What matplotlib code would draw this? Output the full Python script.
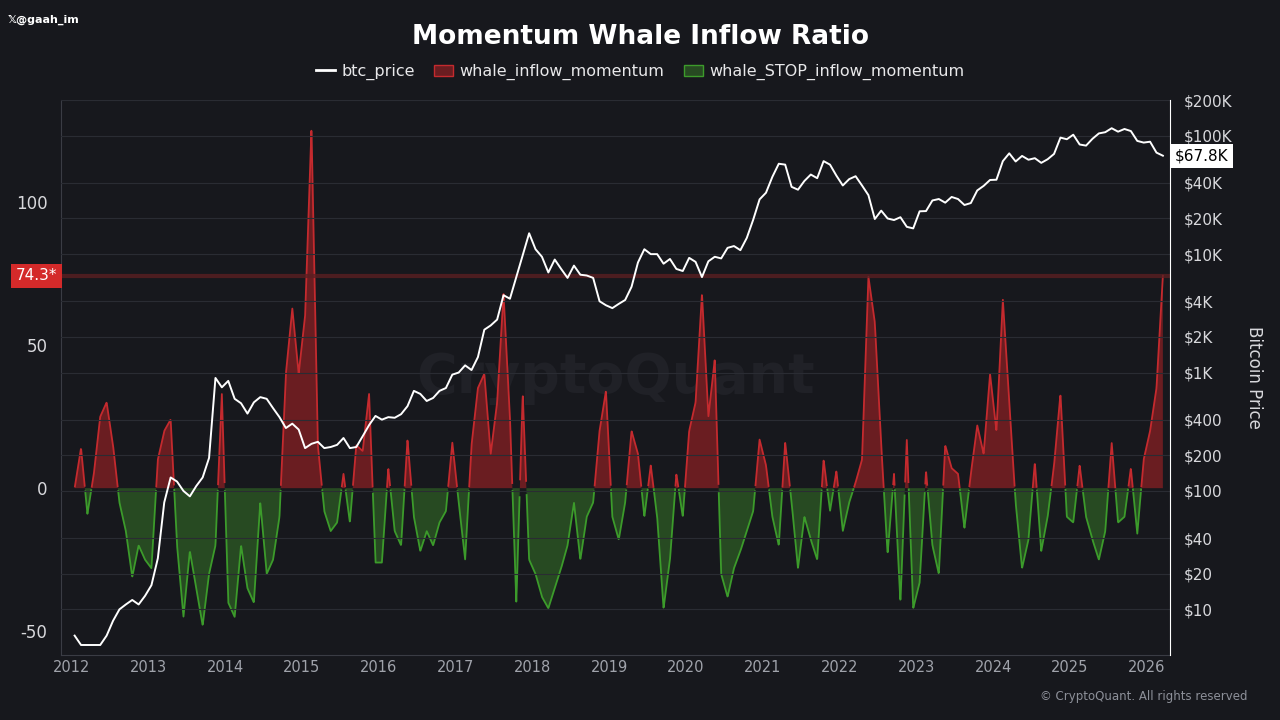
import numpy as np
import matplotlib.pyplot as plt
from matplotlib.ticker import FixedLocator, FixedFormatter

plt.rcParams['axes.unicode_minus'] = False

# monthly values, Jan 2012 .. Mar 2026
btc_price = [
    6, 5, 5, 5, 5, 6, 8, 10, 11, 12, 11, 13,
    16, 27, 80, 130, 120, 100, 90, 110, 130, 190, 900, 750,
    850, 600, 550, 450, 560, 620, 600, 500, 420, 340, 370, 330,
    230, 250, 260, 230, 235, 245, 280, 230, 235, 290, 360, 430,
    400, 420, 415, 445, 520, 700, 660, 575, 610, 700, 740, 960,
    1000, 1150, 1050, 1350, 2300, 2500, 2800, 4500, 4200, 6400, 9800, 15000,
    11000, 9500, 7000, 9000, 7500, 6300, 8000, 6700, 6600, 6300, 4000, 3700,
    3500, 3800, 4100, 5300, 8500, 11000, 10000, 10000, 8300, 9100, 7500, 7200,
    9300, 8600, 6400, 8700, 9500, 9200, 11300, 11700, 10800, 13700, 19500, 29000,
    33000, 45000, 58000, 57000, 37000, 35000, 41500, 47000, 43800, 61000, 57000, 46000,
    38000, 43000, 45500, 38000, 31500, 19800, 23300, 20000, 19400, 20500, 17000, 16500,
    23000, 23100, 28400, 29200, 27200, 30400, 29200, 26000, 27000, 34500, 37700, 42300,
    42500, 61000, 71000, 60600, 67500, 62700, 64600, 59000, 63300, 70200, 96400, 93400,
    102000, 84300, 82500, 94200, 104600, 107100, 115700, 108200, 114000, 109500, 90400, 87500,
    89000, 72000, 67800,
]

# whale inflow momentum (positive = inflow, negative = STOP inflow)
momentum = [
    0, 14, -9, 5, 25, 30, 15, -5, -15, -31, -20, -25,
    -28, 10, 20, 24, -20, -45, -22, -35, -48, -30, -20, 33,
    -40, -45, -20, -35, -40, -5, -30, -25, -10, 40, 63, 40,
    60, 126, 15, -8, -15, -12, 5, -12, 15, 13, 33, -26,
    -26, 7, -15, -20, 17, -10, -22, -15, -20, -12, -8, 16,
    -5, -25, 15, 35, 40, 12, 30, 68, 25, -40, 33, -25,
    -30, -38, -42, -35, -28, -20, -5, -25, -10, -5, 20, 34,
    -10, -18, -5, 20, 12, -10, 8, -10, -42, -25, 5, -10,
    20, 30, 68, 25, 45, -30, -38, -28, -22, -15, -8, 17,
    8, -10, -20, 16, -5, -28, -10, -18, -25, 10, -8, 6,
    -15, -5, 2, 10, 74, 58, 15, -23, 5, -40, 17, -42,
    -33, 6, -20, -30, 15, 7, 5, -14, 5, 22, 12, 40,
    20, 66, 30, -5, -28, -18, 9, -22, -10, 8, 33, -10,
    -12, 8, -10, -18, -25, -15, 16, -12, -10, 7, -16, 10,
    20, 35, 74.3,
]

years = list(range(2012, 2027))
price_ticks = [10, 20, 40, 100, 200, 400, 1e3, 2e3, 4e3, 1e4, 2e4, 4e4, 1e5, 2e5]
price_labels = ['$10', '$20', '$40', '$100', '$200', '$400', '$1K', '$2K', '$4K',
                '$10K', '$20K', '$40K', '$100K', '$200K']

bg = '#17181d'
x = 2012 + (np.arange(len(momentum)) + 0.5) / 12
m = np.array(momentum, dtype=float)

fig = plt.figure(figsize=(12.8, 7.2), dpi=100, facecolor=bg)
ax = fig.add_axes([0.048, 0.09, 0.866, 0.771])
ax.set_facecolor(bg)

ax.text(0.5, 0.5, 'CryptoQuant', transform=ax.transAxes, ha='center', va='center',
        fontsize=40, color='#202127', fontweight='bold', zorder=0)

ax.fill_between(x, 0, m, where=m >= 0, interpolate=True, color='#6a1d21', lw=0)
ax.fill_between(x, 0, m, where=m <= 0, interpolate=True, color='#274a22', lw=0)
# outline only on the curve, not along zero
xf = np.linspace(x[0], x[-1], 4000)
mf = np.interp(xf, x, m)
ax.plot(xf, np.where(mf > 0.3, mf, np.nan), color='#c42a2e', lw=1.3)
ax.plot(xf, np.where(mf < -0.3, mf, np.nan), color='#3c9b2b', lw=1.3)
ax.axhline(m[-1], color='#5a1f22', lw=3, alpha=0.8)

ax.set_xlim(2011.87, 2026.30)
ax.set_ylim(-58.4, 135.7)
ax.set_xticks(years)
ax.set_xticklabels([str(y) for y in years])
ax.set_yticks([-50, 0, 50, 100])
ax.tick_params(colors='#a0a3ab', labelsize=10.5, length=0)
ax.tick_params(axis='y', labelsize=12, labelcolor='#d8d8dc', pad=10)
for s in ['top', 'right']:
    ax.spines[s].set_visible(False)
ax.spines['left'].set_color('#3a3c44')
ax.spines['bottom'].set_color('#3a3c44')

ax2 = ax.twinx()
ax2.set_yscale('log')
ax2.set_ylim(4.1, 2e5)
ax2.plot(x, btc_price, color='white', lw=1.4)
ax2.yaxis.set_major_locator(FixedLocator(price_ticks))
ax2.yaxis.set_major_formatter(FixedFormatter(price_labels))
ax2.yaxis.set_minor_locator(FixedLocator([]))
ax2.tick_params(colors='#d8d8dc', labelsize=11, length=0, pad=10)
ax2.grid(True, axis='y', color='#2a2c33', lw=0.8)
ax2.set_axisbelow(True)
for s in ['top', 'left', 'bottom']:
    ax2.spines[s].set_visible(False)
ax2.spines['right'].set_color('white')
ax2.set_ylabel('Bitcoin Price', color='#d8d8dc', fontsize=12, rotation=270, labelpad=22)

# value labels
ax.text(-0.004, m[-1], f'{m[-1]:.1f}*', transform=ax.get_yaxis_transform(), ha='right',
        va='center', color='white', fontsize=11,
        bbox=dict(boxstyle='square,pad=0.3', fc='#d42a2a', ec='none'))
ax2.text(1.004, btc_price[-1], f'${btc_price[-1] / 1000:.1f}K', transform=ax2.get_yaxis_transform(),
         ha='left', va='center', color='black', fontsize=11,
         bbox=dict(boxstyle='square,pad=0.3', fc='white', ec='none'))

fig.text(0.5, 0.948, 'Momentum Whale Inflow Ratio', ha='center', va='center',
         color='white', fontsize=19, fontweight='bold')
handles = [plt.Line2D([], [], color='white', lw=2),
           plt.Rectangle((0, 0), 1, 1, fc='#6a1d21', ec='#c42a2e'),
           plt.Rectangle((0, 0), 1, 1, fc='#274a22', ec='#3c9b2b')]
fig.legend(handles, ['btc_price', 'whale_inflow_momentum', 'whale_STOP_inflow_momentum'],
           loc='center', bbox_to_anchor=(0.5, 0.9), ncol=3, frameon=False,
           fontsize=11.5, labelcolor='#e8e8ea', handlelength=1.2, columnspacing=1.2,
           handletextpad=0.4)
fig.text(0.006, 0.972, '𝕏@gaah_im', color='white', fontsize=8, fontweight='bold', va='center')
fig.text(0.975, 0.032, '© CryptoQuant. All rights reserved', color='#8d9099', fontsize=8.5,
         ha='right', va='center')

fig.savefig('out.png', dpi=100, facecolor=bg)
